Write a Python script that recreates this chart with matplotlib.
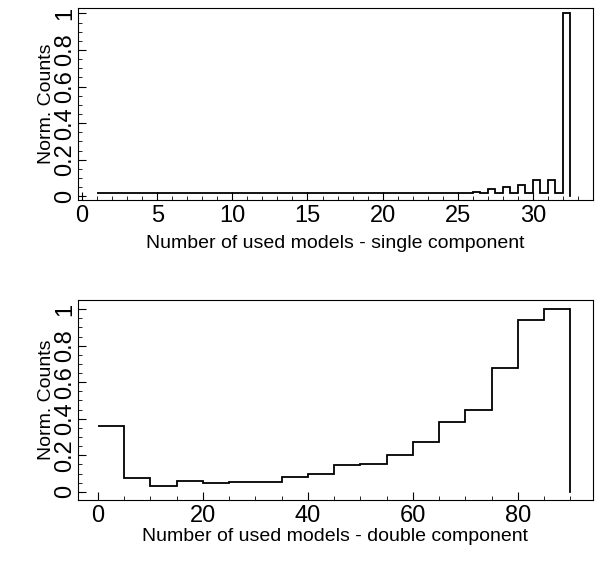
import numpy as np
import matplotlib.pyplot as plt
from matplotlib.ticker import MultipleLocator

plt.rcParams['font.family'] = ['Liberation Sans', 'DejaVu Sans']

# single component: bins of 0.5 from 1 to 32.5
single_edges = np.arange(1.0, 33.0, 0.5)
single_vals = [0.02] * 50 + [0.025, 0.02, 0.04, 0.02, 0.05, 0.02, 0.06, 0.02,
                             0.09, 0.02, 0.09, 0.02, 1.0]
# double component: bins of 5 from 0 to 90
double_edges = np.arange(0, 95, 5)
double_vals = [0.36, 0.077, 0.03, 0.06, 0.046, 0.055, 0.055, 0.08, 0.1,
               0.146, 0.15, 0.2, 0.27, 0.38, 0.45, 0.68, 0.94, 1.0]

fig = plt.figure(figsize=(6, 5.62), dpi=100)
ax1 = fig.add_axes([78/600, 1-200/562, 515/600, 192/562])
ax2 = fig.add_axes([78/600, 1-500/562, 515/600, 200/562])

ax1.stairs(single_vals, single_edges, color='black', lw=1.3, baseline=None)
ax1.plot([32.5, 32.5], [0, 1.0], color='black', lw=1.3)
ax1.set_xlim(-0.27, 34)
ax1.set_ylim(-0.02, 1.03)
ax1.xaxis.set_major_locator(MultipleLocator(5))
ax1.xaxis.set_minor_locator(MultipleLocator(1))
ax1.set_xlabel('Number of used models - single component', fontsize=14, labelpad=6)

ax2.stairs(double_vals, double_edges, color='black', lw=1.3, baseline=None)
ax2.plot([90, 90], [0, 1.0], color='black', lw=1.3)
ax2.set_xlim(-3.8, 94.3)
ax2.set_ylim(-0.045, 1.05)
ax2.xaxis.set_major_locator(MultipleLocator(20))
ax2.xaxis.set_minor_locator(MultipleLocator(5))
ax2.set_xlabel('Number of used models - double component', fontsize=14, labelpad=1)

for ax in (ax1, ax2):
    ax.set_yticks([0, 0.2, 0.4, 0.6, 0.8, 1.0])
    ax.set_yticklabels(['0', '0.2', '0.4', '0.6', '0.8', '1'], rotation=90, va='center')
    ax.yaxis.set_minor_locator(MultipleLocator(0.05))
    ax.tick_params(which='both', direction='in', labelsize=17)
    ax.tick_params(which='major', length=6)
    ax.tick_params(which='minor', length=3)
    ax.tick_params(axis='y', pad=1)
    ax.set_ylabel('Norm. Counts', fontsize=14, labelpad=0)

fig.savefig('out.png', dpi=100)
